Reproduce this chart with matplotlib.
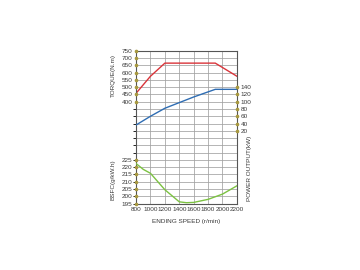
import numpy as np
import matplotlib
matplotlib.use("Agg")
import matplotlib.pyplot as plt
from matplotlib.ticker import MultipleLocator

# engine speed (r/min)
speed_torque = [800, 1000, 1200, 1900, 2200]
torque = [458, 575, 665, 665, 575]

speed_power = [800, 1000, 1200, 1600, 1900, 2200]
power = [36, 60, 82, 113, 134, 134]

speed_bsfc = [800, 900, 1000, 1200, 1400, 1500, 1600, 1800, 2000, 2200]
bsfc = [222.5, 218.5, 215.8, 204.5, 196.2, 195.6, 195.8, 197.9, 201.5, 207.2]

x_ticks = [800, 1000, 1200, 1400, 1600, 1800, 2000, 2200]
torque_ticks = [400, 450, 500, 550, 600, 650, 700, 750]
bsfc_ticks = [195, 200, 205, 210, 215, 220, 225]
power_ticks = [20, 40, 60, 80, 100, 120, 140]

plt.rcParams['font.family'] = ['Liberation Sans Narrow', 'Liberation Sans', 'DejaVu Sans']
fs = 4.6
dot_col = '#a8993f'
txt_col = '#3a3a3a'

fig = plt.figure(figsize=(3.6, 2.7), dpi=100)
ax = fig.add_axes([0.378, 0.246, 0.28, 0.566])

# torque axis: one grid cell = 50 N.m
ax.set_xlim(800, 2200)
ax.set_ylim(-300, 750)
ax.xaxis.set_minor_locator(MultipleLocator(200))
ax.yaxis.set_minor_locator(MultipleLocator(50))
ax.grid(which='both', color='#a0a0a0', linewidth=0.55)
ax.set_axisbelow(True)
ax.set_xticks(x_ticks)
ax.set_xticklabels([str(v) for v in x_ticks], fontsize=fs, color=txt_col)
ax.set_yticks(torque_ticks)
ax.set_yticklabels([str(v) for v in torque_ticks], fontsize=fs, color=txt_col)
ax.tick_params(length=0, pad=2.5)
for s in ax.spines.values():
    s.set_color('#555555')
    s.set_linewidth(0.8)
ax.plot(speed_torque, torque, color='#d9343a', linewidth=1.0)
ax.plot([800] * len(torque_ticks), torque_ticks, 'o', ms=1.6, color=dot_col, clip_on=False, zorder=5)

# bsfc axis on the left, lower part
axb = ax.twinx()
axb.set_ylim(195, 300)
axb.yaxis.tick_left()
axb.set_yticks(bsfc_ticks)
axb.set_yticklabels([str(v) for v in bsfc_ticks], fontsize=fs, color=txt_col)
axb.tick_params(length=0, pad=2.5)
for s in axb.spines.values():
    s.set_visible(False)
axb.plot(speed_bsfc, bsfc, color='#7cc242', linewidth=1.0)
axb.plot([800] * len(bsfc_ticks), bsfc_ticks, 'o', ms=1.6, color=dot_col, clip_on=False, zorder=5)

# power axis on the right
axp = ax.twinx()
axp.set_ylim(-180, 240)
axp.set_yticks(power_ticks)
axp.set_yticklabels([str(v) for v in power_ticks], fontsize=fs, color=txt_col)
axp.tick_params(length=0, pad=2.5)
for s in axp.spines.values():
    s.set_visible(False)
axp.plot(speed_power, power, color='#2f6db3', linewidth=1.0)
axp.plot([2200] * len(power_ticks), power_ticks, 'o', ms=1.6, color=dot_col, clip_on=False, zorder=5)

fig.text(0.314, 0.72, 'TORQUE(N.m)', rotation=90, fontsize=fs, color=txt_col, ha='center', va='center')
fig.text(0.314, 0.335, 'BSFC(g/kW.h)', rotation=90, fontsize=fs, color=txt_col, ha='center', va='center')
fig.text(0.694, 0.375, 'POWER OUTPUT(kW)', rotation=90, fontsize=fs, color=txt_col, ha='center', va='center')
fig.text(0.517, 0.178, 'ENDING SPEED (r/min)', fontsize=fs, color=txt_col, ha='center', va='center')

fig.savefig('out.png', dpi=100, facecolor='white')
